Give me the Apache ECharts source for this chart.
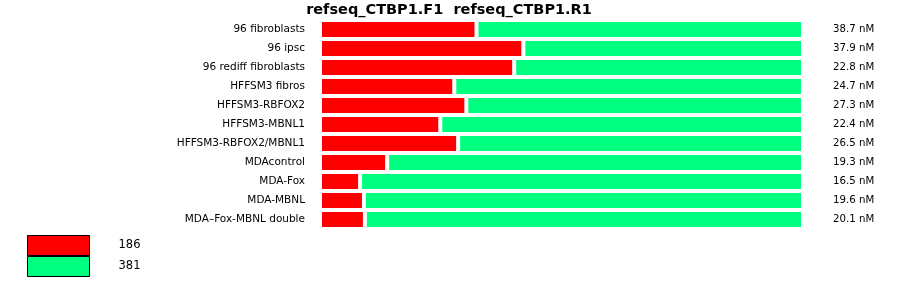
<!DOCTYPE html>
<html><head><meta charset="utf-8">
<script src="https://cdn.jsdelivr.net/npm/echarts@6/dist/echarts.min.js"></script>
<style>html,body{margin:0;padding:0;background:#fff}#c{width:900px;height:299px}</style>
</head><body><div id="c"></div>
<script>
const categories = ['96 fibroblasts','96 ipsc','96 rediff fibroblasts','HFFSM3 fibros','HFFSM3-RBFOX2','HFFSM3-MBNL1','HFFSM3-RBFOX2/MBNL1','MDAcontrol','MDA-Fox','MDA-MBNL','MDA\u2013Fox-MBNL double'];
const concentrations = ['38.7 nM','37.9 nM','22.8 nM','24.7 nM','27.3 nM','22.4 nM','26.5 nM','19.3 nM','16.5 nM','19.6 nM','20.1 nM'];
const seriesNames = ['186','381'];
const redValues = [32.4, 42.1, 40.2, 27.8, 30.3, 24.9, 28.6, 13.9, 8.3, 9.1, 9.3];
const greenValues = [67.6, 57.9, 59.8, 72.2, 69.7, 75.1, 71.4, 86.1, 91.7, 90.9, 90.7];
const titleText = 'refseq_CTBP1.F1  refseq_CTBP1.R1';

const chart = echarts.init(document.getElementById('c'), null, {renderer:'canvas'});
const font = 'DejaVu Sans';
chart.setOption({
  animation:false,
  title:{text:titleText,left:444,textAlign:'center',top:-2,textStyle:{fontFamily:font,fontSize:14.5,fontWeight:'bold',color:'#000'}},
  grid:{left:320,top:20,width:483,height:209},
  xAxis:{type:'value',min:0,max:100,show:false},
  yAxis:[
    {type:'category',data:categories,inverse:true,axisLine:{show:false},axisTick:{show:false},
     axisLabel:{fontFamily:font,fontSize:10.5,color:'#000',margin:15}},
    {type:'category',data:concentrations,inverse:true,position:'right',axisLine:{show:false},axisTick:{show:false},
     axisLabel:{fontFamily:font,fontSize:10.2,color:'#000',margin:30,align:'left'}}
  ],
  legend:{orient:'vertical',left:22,top:230,itemWidth:62,itemHeight:20,itemGap:0,icon:'rect',
    itemStyle:{borderColor:'#000',borderWidth:1},
    textStyle:{fontFamily:font,fontSize:11.5,color:'#000',padding:[0,0,0,24]},
    data:seriesNames},
  series:[
    {name:seriesNames[0],type:'bar',stack:'s',data:redValues,barCategoryGap:0,
     itemStyle:{color:'#ff0000',borderColor:'#fff',borderWidth:2}},
    {name:seriesNames[1],type:'bar',stack:'s',data:greenValues,barCategoryGap:0,
     itemStyle:{color:'#00ff80',borderColor:'#fff',borderWidth:2}}
  ]
});
</script></body></html>
